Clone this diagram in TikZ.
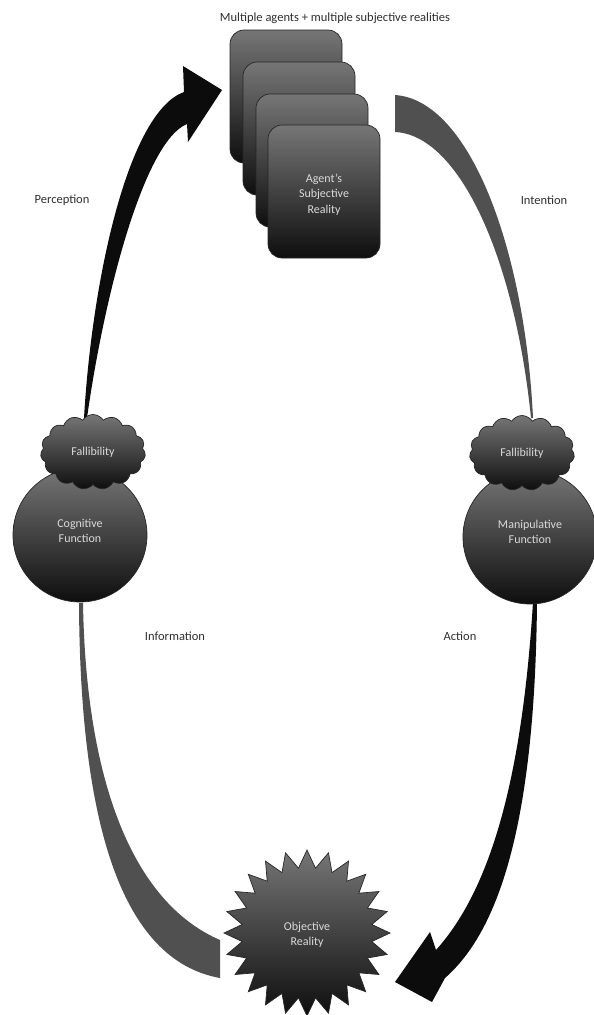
\documentclass[tikz,border=0pt]{standalone}
\usepackage{fontspec}
\setmainfont{Carlito}
\usetikzlibrary{shapes.geometric,shapes.symbols}
\definecolor{shtop}{HTML}{767676}
\definecolor{shbot}{HTML}{0E0E0E}
\definecolor{arrgray}{HTML}{505050}
\definecolor{arrblack}{HTML}{0C0C0C}
\definecolor{intxt}{HTML}{DADADA}
\definecolor{labtxt}{HTML}{2E2E2E}
\begin{document}
\begin{tikzpicture}[x=1pt,y=-1pt,
  shapefill/.style={top color=shtop, bottom color=shbot, draw=black!85, line width=0.7pt},
  intext/.style={text=intxt, font=\fontsize{12}{15.5}\selectfont, align=center},
  lab/.style={text=labtxt, font=\fontsize{12.5}{15}\selectfont, inner sep=0},
  card/.style={shapefill, rounded corners=14pt, minimum width=112pt, minimum height=133pt, inner sep=0},
  ball/.style={shapefill, circle, minimum size=134pt, inner sep=0},
  puff/.style={shapefill, cloud, cloud puffs=15, cloud puff arc=115, minimum width=105pt, minimum height=75pt, inner sep=0},
  blackarrow/.style={fill=arrblack},
  grayarrow/.style={fill=arrgray}]
\useasboundingbox (0,0) rectangle (594,1015);

% ---- block arrows ----
% Perception
\fill[blackarrow] (84,418) .. controls (92,280) and (128,112) .. (184,92)
  -- (183,66) -- (222,90) -- (188,142) -- (187,124)
  .. controls (145,141) and (105,290) .. (87,418) -- cycle;
% Intention
\fill[grayarrow] (395,95) .. controls (470,100) and (525,250) .. (533,418)
  -- (531,418) .. controls (515,260) and (460,135) .. (395,132) -- cycle;
% Information
\fill[grayarrow] (79,603) .. controls (80,820) and (120,960) .. (220,978)
  -- (220,940) .. controls (132,902) and (86,780) .. (83,603) -- cycle;
% Action
\fill[blackarrow] (537,602) .. controls (535,820) and (500,930) .. (445,978)
  -- (432,1002) -- (395,982) -- (430,932) -- (436,950)
  .. controls (490,890) and (522,780) .. (533,602) -- cycle;

% ---- labels ----
\node[lab] (title) at (335,18) {Multiple agents + multiple subjective realities};
\node[lab] (perc) at (62,200) {Perception};
\node[lab] (intn) at (544,200) {Intention};
\node[lab] (info) at (175,636) {Information};
\node[lab] (act) at (460,636) {Action};

% ---- agents' cards ----
\node[card] (card1) at (286,96.5) {};
\node[card] (card2) at (299,128.5) {};
\node[card] (card3) at (312,160.5) {};
\node[card] (card4) at (324,191.5) {};
\node[intext] (card4txt) at ([yshift=-3pt]card4.center) {Agent’s\\Subjective\\Reality};

% ---- functions ----
\node[ball] (cog) at (80,535) {};
\node[intext] (cogtxt) at ([yshift=4pt]cog.center) {Cognitive\\Function};
\node[ball] (man) at (530,537) {};
\node[intext] (mantxt) at ([yshift=5pt]man.center) {Manipulative\\Function};
\node[puff, intext] (lcloud) at (93,452) {Fallibility};
\node[puff, intext] (rcloud) at (522,453) {Fallibility};

% ---- objective reality ----
\node[shapefill, star, star points=24, star point ratio=1.27, minimum size=166pt, inner sep=0] (obj) at (307,933) {};
\node[intext] (objtxt) at ([yshift=-2pt]obj.center) {Objective\\Reality};
\end{tikzpicture}
\end{document}
